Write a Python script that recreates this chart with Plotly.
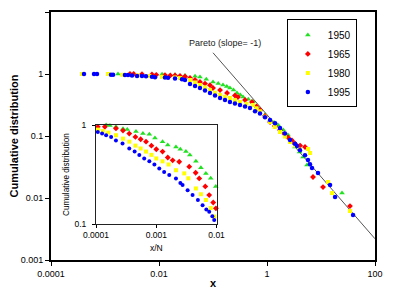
import math
import plotly.graph_objects as go

# ---------------- data ----------------
years = ["1950", "1965", "1980", "1995"]
colors = {"1950": "#22e022", "1965": "#ff0000", "1980": "#ffff00", "1995": "#0000ff"}
symbols = {"1950": "triangle-up", "1965": "diamond", "1980": "square", "1995": "circle"}

# main plot: x vs cumulative distribution
x_1950 = [0.00174, 0.0035, 0.0114, 0.0198, 0.0303, 0.0465, 0.0574, 0.075, 0.1, 0.125, 0.153,
          0.18, 0.206, 0.24, 0.278, 0.32, 0.36, 0.45, 0.551, 0.65, 0.741, 0.92, 1.14, 1.35,
          1.6, 2.0, 2.45, 2.9, 3.30, 4.0, 4.64, 5.51, 24.5]
y_1950 = [1.0, 0.99, 0.99, 0.97, 0.95, 0.92, 0.895, 0.82, 0.743, 0.70, 0.665,
          0.63, 0.594, 0.55, 0.494, 0.46, 0.426, 0.39, 0.36, 0.30, 0.263, 0.22, 0.181, 0.165,
          0.15, 0.125, 0.104, 0.085, 0.0665, 0.055, 0.0458, 0.034, 0.0120]

x_1965 = [0.0029, 0.0034, 0.00484, 0.0074, 0.0089, 0.0129, 0.0162, 0.0198, 0.0245, 0.0303,
          0.0375, 0.0465, 0.0574, 0.0711, 0.088, 0.1, 0.135, 0.182, 0.255, 0.29, 0.392, 0.527,
          0.64, 0.741, 0.92, 1.14, 1.4, 1.74, 2.1, 2.45, 2.9, 3.30, 4.1, 5.06, 7.11, 10.9, 34.4]
y_1965 = [1.0, 1.0, 0.99, 0.98, 0.97, 0.96, 0.95, 0.95, 0.93, 0.91,
          0.861, 0.80, 0.743, 0.70, 0.66, 0.594, 0.55, 0.494, 0.45, 0.426, 0.381, 0.353,
          0.30, 0.263, 0.21, 0.168, 0.145, 0.125, 0.108, 0.095, 0.085, 0.075, 0.07, 0.0665,
          0.0218, 0.0150, 0.0074]

x_1980 = [0.000375, 0.00114, 0.0021, 0.004, 0.0067, 0.0114, 0.0198, 0.0245, 0.0375, 0.0465,
          0.0574, 0.0711, 0.088, 0.109, 0.135, 0.167, 0.206, 0.255, 0.316, 0.42, 0.551, 0.64,
          0.741, 0.92, 1.14, 1.4, 1.74, 2.15, 2.67, 3.3, 4.08, 5.74, 6.25, 13.5, 16.0, 34.4]
y_1980 = [1.0, 1.0, 0.97, 0.95, 0.93, 0.90, 0.88, 0.861, 0.80, 0.73,
          0.665, 0.61, 0.55, 0.50, 0.458, 0.43, 0.41, 0.38, 0.353, 0.33, 0.316, 0.28,
          0.25, 0.205, 0.168, 0.14, 0.116, 0.098, 0.08, 0.07, 0.06, 0.0617, 0.0532, 0.0181,
          0.0120, 0.00617]

x_1995 = [0.000408, 0.000625, 0.000711, 0.00129, 0.00141, 0.00234, 0.00267, 0.00316, 0.00392,
          0.00484, 0.00574, 0.00741, 0.00843, 0.0129, 0.0147, 0.0198, 0.0267, 0.0303, 0.0375,
          0.0465, 0.0574, 0.0711, 0.088, 0.109, 0.135, 0.167, 0.206, 0.255, 0.316, 0.392, 0.484,
          0.600, 0.741, 0.918, 1.14, 1.41, 1.74, 2.15, 2.67, 3.30, 3.59, 4.08, 5.06, 5.74, 6.25,
          6.81, 8.80, 14.7, 18.2, 39.2]
y_1995 = [1.0, 1.0, 1.0, 0.97, 0.97, 0.96, 0.96, 0.95, 0.93,
          0.93, 0.92, 0.90, 0.89, 0.88, 0.87, 0.85, 0.82, 0.80, 0.69,
          0.64, 0.594, 0.54, 0.494, 0.45, 0.41, 0.381, 0.353, 0.333, 0.316, 0.30, 0.283,
          0.25, 0.23, 0.20, 0.181, 0.16, 0.135, 0.11, 0.086, 0.075, 0.069, 0.059, 0.049, 0.041,
          0.035, 0.0305, 0.0253, 0.0162, 0.0104, 0.00532]

# inset: x/N vs cumulative distribution
xn_1950 = [0.000147, 0.00017, 0.000214, 0.00028, 0.00033, 0.00046, 0.00060, 0.000766, 0.00095,
           0.00127, 0.00155, 0.00212, 0.0025, 0.0031, 0.0036, 0.00454, 0.0055, 0.00665, 0.0080,
           0.0097]
yn_1950 = [1.0, 0.99, 0.96, 0.92, 0.90, 0.86, 0.82, 0.81, 0.74,
           0.68, 0.63, 0.60, 0.57, 0.54, 0.50, 0.43, 0.37, 0.325, 0.29,
           0.24]

xn_1965 = [0.000107, 0.00014, 0.000214, 0.00028, 0.000356, 0.00045, 0.00055, 0.000675, 0.00083,
           0.00100, 0.00127, 0.00155, 0.00187, 0.0024, 0.00352, 0.0045, 0.00516, 0.0065, 0.00755,
           0.0088, 0.00975]
yn_1965 = [0.96, 0.96, 0.925, 0.88, 0.82, 0.76, 0.72, 0.68, 0.62,
           0.57, 0.54, 0.47, 0.44, 0.426, 0.38, 0.33, 0.289, 0.24, 0.196,
           0.165, 0.144]

xn_1980 = [0.000107, 0.00013, 0.00016, 0.000214, 0.00028, 0.000356, 0.00045, 0.00055, 0.000675,
           0.00083, 0.00100, 0.00127, 0.00160, 0.00212, 0.00291, 0.0034, 0.00454, 0.0055,
           0.00665, 0.0080, 0.00914, 0.0100]
yn_1980 = [0.90, 0.87, 0.84, 0.79, 0.73, 0.68, 0.62, 0.58, 0.54,
           0.50, 0.46, 0.43, 0.40, 0.35, 0.325, 0.29, 0.229, 0.20,
           0.175, 0.145, 0.119, 0.108]

xn_1995 = [0.000107, 0.000126, 0.000147, 0.000178, 0.000214, 0.000275, 0.000356, 0.000437,
           0.000522, 0.00063, 0.000766, 0.00093, 0.00112, 0.00135, 0.00164, 0.00212, 0.00251,
           0.00273, 0.00331, 0.0040, 0.0049, 0.00586, 0.00676, 0.00755, 0.00851, 0.00914, 0.0100]
yn_1995 = [0.85, 0.82, 0.79, 0.76, 0.70, 0.65, 0.58, 0.54,
           0.50, 0.46, 0.43, 0.40, 0.365, 0.335, 0.313, 0.289, 0.26,
           0.248, 0.22, 0.196, 0.175, 0.155, 0.14, 0.133, 0.12, 0.11, 0.10]

# Pareto reference line (slope = -1)
pareto_x = [0.1, 100]
pareto_y = [2.2, 0.0022]
pareto_label = "Pareto (slope= -1)"
pareto_label_at = (0.165, 3.2)   # data coordinates of the label centre

main_x_ticks = [0.0001, 0.01, 1, 100]
main_x_labels = ["0.0001", "0.01", "1", "100"]
main_y_ticks = [0.001, 0.01, 0.1, 1, 10]
main_y_labels = ["0.001", "0.01", "0.1", "1", "10"]
inset_x_ticks = [0.0001, 0.001, 0.01]
inset_x_labels = ["0.0001", "0.001", "0.01"]
inset_y_ticks = [0.1, 1]
inset_y_labels = ["0.1", "1"]

main_data = {"1950": (x_1950, y_1950), "1965": (x_1965, y_1965),
             "1980": (x_1980, y_1980), "1995": (x_1995, y_1995)}
inset_data = {"1950": (xn_1950, yn_1950), "1965": (xn_1965, yn_1965),
              "1980": (xn_1980, yn_1980), "1995": (xn_1995, yn_1995)}

FONT = "Liberation Sans, Arial, sans-serif"

fig = go.Figure()

fig.add_trace(go.Scatter(x=pareto_x, y=pareto_y, mode="lines",
                         line=dict(color="#555555", width=1), showlegend=False,
                         hoverinfo="skip"))

sizes = {"1950": 5, "1965": 4.5, "1980": 4, "1995": 4.5}
for yr in years:
    xs, ys = main_data[yr]
    fig.add_trace(go.Scatter(x=xs, y=ys, mode="markers", name=yr,
                             marker=dict(color=colors[yr], symbol=symbols[yr], size=sizes[yr],
                                         line=dict(width=0)),
                             cliponaxis=False))

isizes = {"1950": 5, "1965": 4.5, "1980": 4, "1995": 4}
for yr in years:
    xs, ys = inset_data[yr]
    fig.add_trace(go.Scatter(x=xs, y=ys, mode="markers", name=yr, showlegend=False,
                             xaxis="x2", yaxis="y2",
                             marker=dict(color=colors[yr], symbol=symbols[yr], size=isizes[yr],
                                         line=dict(width=0)),
                             cliponaxis=False))

# the page body adds an 8px offset, so the figure is 8px smaller on each axis
fig.update_layout(
    width=391, height=292,
    margin=dict(l=43, r=24, t=4, b=40, autoexpand=False),
    paper_bgcolor="white", plot_bgcolor="white",
    font=dict(family=FONT, size=9, color="black"),
    xaxis=dict(type="log", range=[-4, 2], tickvals=main_x_ticks, ticktext=main_x_labels,
               automargin=False,
               showgrid=False, zeroline=False, showline=True, linecolor="black", linewidth=2,
               mirror=True, ticks="outside", ticklen=4, tickcolor="black", tickwidth=1,
               tickfont=dict(size=9),
               title=dict(text="<b>x</b>", font=dict(size=11), standoff=2)),
    yaxis=dict(type="log", range=[-3, 1], tickvals=main_y_ticks, ticktext=main_y_labels,
               automargin=False,
               showgrid=False, zeroline=False, showline=True, linecolor="black", linewidth=2,
               mirror=True, ticks="outside", ticklen=4, tickcolor="black", tickwidth=1,
               tickfont=dict(size=9),
               title=dict(text="<b>Cumulative distribution</b>", font=dict(size=11), standoff=2)),
    xaxis2=dict(type="log", range=[-4, -2], domain=[0.139, 0.511], anchor="y2",
                automargin=False,
                tickvals=inset_x_ticks, ticktext=inset_x_labels,
                showgrid=False, zeroline=False, showline=True, linecolor="#222222", linewidth=1,
                mirror=True, ticks="outside", ticklen=3, tickcolor="black",
                tickfont=dict(size=8.5),
                title=dict(text="x/N", font=dict(size=8.5), standoff=5)),
    yaxis2=dict(type="log", range=[-1, 0], domain=[0.145, 0.544], anchor="x2",
                automargin=False,
                tickvals=inset_y_ticks, ticktext=inset_y_labels,
                showgrid=False, zeroline=False, showline=True, linecolor="#222222", linewidth=1,
                mirror=True, ticks="outside", ticklen=3, tickcolor="black",
                ticklabelstandoff=4,
                tickfont=dict(size=8.5),
                title=dict(text="Cumulative distribution", font=dict(size=8.2), standoff=3)),
    legend=dict(x=0.944, y=0.97, xanchor="right", yanchor="top",
                bordercolor="black", borderwidth=1, bgcolor="white",
                font=dict(size=10), itemwidth=30, tracegroupgap=0),
    annotations=[dict(text=pareto_label,
                      x=math.log10(pareto_label_at[0]), y=math.log10(pareto_label_at[1]),
                      xref="x", yref="y",
                      xanchor="center", yanchor="middle", showarrow=False,
                      font=dict(size=9, color="#222222"))],
)

fig.write_html("out.html")
